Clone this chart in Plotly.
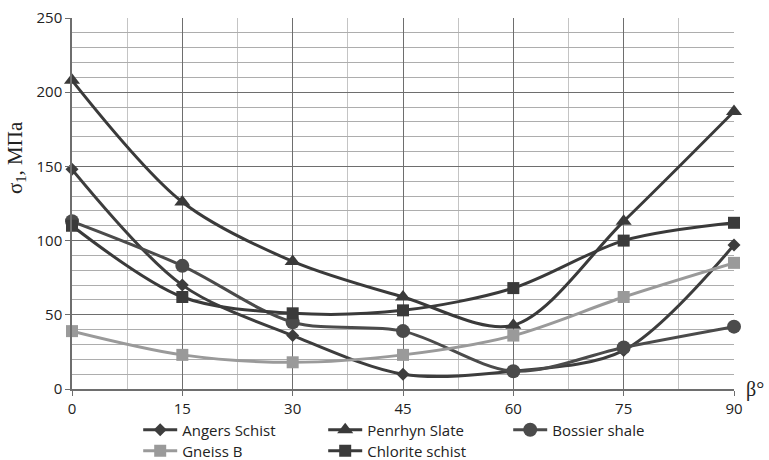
import plotly.graph_objects as go

beta = [0, 15, 30, 45, 60, 75, 90]
angers_schist = [148, 70, 36, 10, 12, 26, 97]
penrhyn_slate = [208, 126, 86, 62, 43, 113, 187]
bossier_shale = [113, 83, 45, 39, 12, 28, 42]
gneiss_b = [39, 23, 18, 23, 36, 62, 85]
chlorite_schist = [110, 62, 51, 53, 68, 100, 112]

series = [
    ("Angers Schist", angers_schist, "#3d3d3d", "diamond", 10, "legend"),
    ("Penrhyn Slate", penrhyn_slate, "#3a3a3a", "triangle-up", 14, "legend"),
    ("Bossier shale", bossier_shale, "#4b4b4b", "circle", 14, "legend"),
    ("Gneiss B", gneiss_b, "#9a9a9a", "square", 12, "legend2"),
    ("Chlorite schist", chlorite_schist, "#3a3a3a", "square", 12, "legend2"),
]

fig = go.Figure()
for name, vals, color, sym, size, leg in series:
    fig.add_trace(go.Scatter(
        x=beta, y=vals, name=name, mode="lines+markers",
        line=dict(color=color, width=3, shape="spline", smoothing=0.9),
        marker=dict(symbol=sym, size=size, color=color),
        cliponaxis=False, legend=leg,
    ))

tickfont = dict(family="Open Sans, Liberation Sans, sans-serif", size=15, color="#222")
serif = dict(family="Liberation Serif, serif", size=21, color="#222")

fig.update_layout(
    width=769, height=460,
    margin=dict(l=72, r=35, t=18, b=71, autoexpand=False),
    paper_bgcolor="white", plot_bgcolor="white",
    font=tickfont,
    xaxis=dict(range=[0, 90], dtick=15, tick0=0, showgrid=True, gridcolor="#6e6e6e", gridwidth=1.2,
               minor=dict(dtick=7.5, showgrid=True, gridcolor="#c4c4c4", gridwidth=1),
               ticks="outside", ticklen=5, tickcolor="#6e6e6e",
               showline=True, linecolor="#6e6e6e", linewidth=1.5, zeroline=False,
               tickfont=tickfont, fixedrange=True),
    yaxis=dict(range=[0, 250], dtick=50, tick0=0, showgrid=True, gridcolor="#6e6e6e", gridwidth=1.2,
               minor=dict(dtick=10, showgrid=True, gridcolor="#adadad", gridwidth=1.2),
               ticks="outside", ticklen=5, tickcolor="#6e6e6e",
               showline=True, linecolor="#6e6e6e", linewidth=1.5, zeroline=False,
               tickfont=tickfont, fixedrange=True),
    legend=dict(orientation="h", x=0.1, xanchor="left", y=-0.1105, yanchor="middle",
                entrywidth=136, entrywidthmode="pixels", font=tickfont, bgcolor="rgba(0,0,0,0)",
                itemwidth=34, tracegroupgap=0),
    legend2=dict(orientation="h", x=0.1, xanchor="left", y=-0.167, yanchor="middle",
                 entrywidth=136, entrywidthmode="pixels", font=tickfont, bgcolor="rgba(0,0,0,0)",
                 itemwidth=34, tracegroupgap=0),
    annotations=[
        dict(text="β°", x=1.015, y=0.0, xref="paper", yref="paper", xanchor="left", yanchor="middle",
             showarrow=False, font=dict(family="Liberation Serif, serif", size=20, color="#222")),
        dict(text="σ<sub>1</sub>, МПа", x=-0.0846, y=0.625, xref="paper", yref="paper",
             xanchor="center", yanchor="middle", textangle=-90, showarrow=False, font=serif),
    ],
)

fig.write_html("out.html")
